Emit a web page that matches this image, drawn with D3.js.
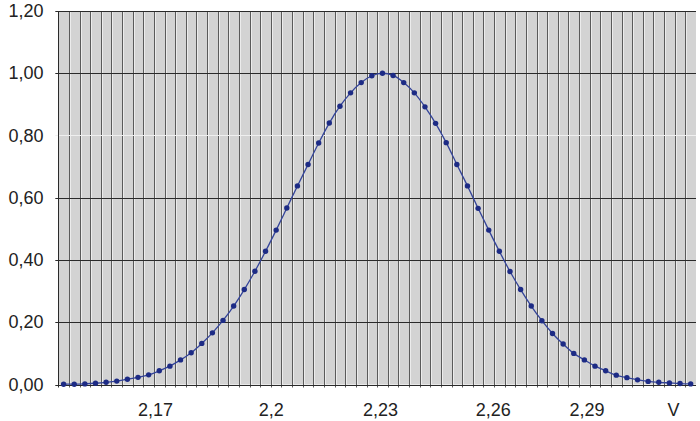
<!DOCTYPE html>
<html>
<head>
<meta charset="utf-8">
<script src="https://cdnjs.cloudflare.com/ajax/libs/d3/7.8.5/d3.min.js"></script>
<style>
    body { margin: 0; background: #fff; }
    svg { display: block; }
    text { font-family: Arial, "Liberation Sans", sans-serif; fill: #222; }
</style>
</head>
<body>
<script>
//voltage of each point (V)
var volts = [2.140, 2.143, 2.146, 2.149, 2.152, 2.155, 2.158, 2.161, 2.164, 2.167,
    2.170, 2.173, 2.176, 2.179, 2.182, 2.185, 2.188, 2.191, 2.194, 2.197,
    2.200, 2.203, 2.206, 2.209, 2.212, 2.215, 2.218, 2.221, 2.224, 2.227,
    2.230, 2.233, 2.236, 2.239, 2.242, 2.245, 2.248, 2.251, 2.254, 2.257,
    2.260, 2.263, 2.266, 2.269, 2.272, 2.275, 2.278, 2.281, 2.284, 2.287,
    2.290, 2.293, 2.296, 2.299, 2.302, 2.305, 2.308, 2.311, 2.314, 2.317];

//normalised response
var values = [0.001, 0.001, 0.002, 0.004, 0.007, 0.011, 0.017, 0.023, 0.031, 0.044,
    0.059, 0.079, 0.102, 0.132, 0.166, 0.206, 0.252, 0.305, 0.364, 0.428,
    0.496, 0.567, 0.638, 0.707, 0.776, 0.840, 0.894, 0.937, 0.970, 0.992,
    1.000, 0.993, 0.970, 0.937, 0.892, 0.839, 0.777, 0.707, 0.638, 0.566,
    0.496, 0.428, 0.363, 0.305, 0.252, 0.205, 0.164, 0.130, 0.100, 0.079,
    0.059, 0.044, 0.030, 0.022, 0.015, 0.010, 0.007, 0.005, 0.003, 0.002];

//x axis labels and where they sit (in volts)
var xTickLabels = ["2,17", "2,2", "2,23", "2,26", "2,29", "V"];
var xTickAt = [2.1658, 2.1985, 2.2293, 2.2611, 2.2876, 2.3120];

//y axis ticks
var yTicks = [0, 0.2, 0.4, 0.6, 0.8, 1.0, 1.2];

window.onload = setChart();

function setChart() {

    //frame dimensions
    var width = 700,
        height = 421;

    var left = 58.3,
        right = 696,
        top = 11,
        bottom = 384.5;

    var svg = d3.select("body")
        .append("svg")
        .attr("width", width)
        .attr("height", height);

    //one category per point, half a step of room on each side
    var step = 0.003;
    var x = d3.scaleLinear()
        .domain([volts[0] - step / 2, volts[volts.length - 1] + step / 2])
        .range([left, right]);

    var y = d3.scaleLinear()
        .domain([0, 1.2])
        .range([bottom, top]);

    //grey plot area
    svg.append("rect")
        .attr("x", left)
        .attr("y", top)
        .attr("width", right - left)
        .attr("height", bottom - top)
        .attr("fill", "#d3d3d3");

    //vertical grid between categories
    var bounds = volts.slice(1).map(function(v, i){ return (v + volts[i]) / 2; });

    svg.selectAll(".vhi")
        .data(bounds)
        .enter()
        .append("line")
        .attr("class", "vhi")
        .attr("x1", function(d){ return Math.round(x(d)) + 1.5; })
        .attr("x2", function(d){ return Math.round(x(d)) + 1.5; })
        .attr("y1", top)
        .attr("y2", bottom)
        .attr("stroke", "#ececec")
        .attr("stroke-width", 1);

    svg.selectAll(".vgrid")
        .data(bounds)
        .enter()
        .append("line")
        .attr("class", "vgrid")
        .attr("x1", function(d){ return Math.round(x(d)) + 0.5; })
        .attr("x2", function(d){ return Math.round(x(d)) + 0.5; })
        .attr("y1", top)
        .attr("y2", bottom + 3)
        .attr("stroke", "#5a5a5a")
        .attr("stroke-width", 1);

    //horizontal grid
    svg.selectAll(".hgrid")
        .data(yTicks)
        .enter()
        .append("line")
        .attr("class", "hgrid")
        .attr("x1", left - 3)
        .attr("x2", right)
        .attr("y1", function(d){ return Math.round(y(d)) + 0.5; })
        .attr("y2", function(d){ return Math.round(y(d)) + 0.5; })
        .attr("stroke", function(d){ return Math.abs(d - 0.8) < 1e-6 ? "#efefef" : "#2a2a2a"; })
        .attr("stroke-width", 1);

    //left axis line
    svg.append("line")
        .attr("x1", Math.round(left) + 0.5)
        .attr("x2", Math.round(left) + 0.5)
        .attr("y1", top)
        .attr("y2", bottom + 3)
        .attr("stroke", "#2a2a2a");

    //y labels
    svg.selectAll(".ylab")
        .data(yTicks)
        .enter()
        .append("text")
        .attr("class", "ylab")
        .attr("x", 43.5)
        .attr("y", function(d){ return y(d) + 6; })
        .attr("text-anchor", "end")
        .style("font-size", "18px")
        .text(function(d){ return d3.format(".2f")(d).replace(".", ","); });

    //x labels
    var xAxis = d3.axisBottom(x)
        .tickValues(xTickAt)
        .tickSize(0)
        .tickPadding(0)
        .tickFormat(function(d, i){ return xTickLabels[i]; });

    var gx = svg.append("g")
        .attr("transform", "translate(0," + 401.5 + ")")
        .call(xAxis);
    gx.select(".domain").remove();
    gx.selectAll("text")
        .attr("y", 0)
        .attr("dy", "0.8em")
        .style("font-size", "18px")
        .style("font-family", "Arial, 'Liberation Sans', sans-serif")
        .attr("fill", "#222");

    //curve
    var line = d3.line()
        .x(function(d, i){ return x(volts[i]); })
        .y(function(d){ return y(d); })
        .curve(d3.curveMonotoneX);

    svg.append("path")
        .datum(values)
        .attr("d", line)
        .attr("fill", "none")
        .attr("stroke", "#34449a")
        .attr("stroke-width", 1.3);

    svg.selectAll(".dot")
        .data(values)
        .enter()
        .append("circle")
        .attr("class", "dot")
        .attr("cx", function(d, i){ return x(volts[i]); })
        .attr("cy", function(d){ return y(d); })
        .attr("r", 2.7)
        .attr("fill", "#1d2b85");
}
</script>
</body>
</html>
